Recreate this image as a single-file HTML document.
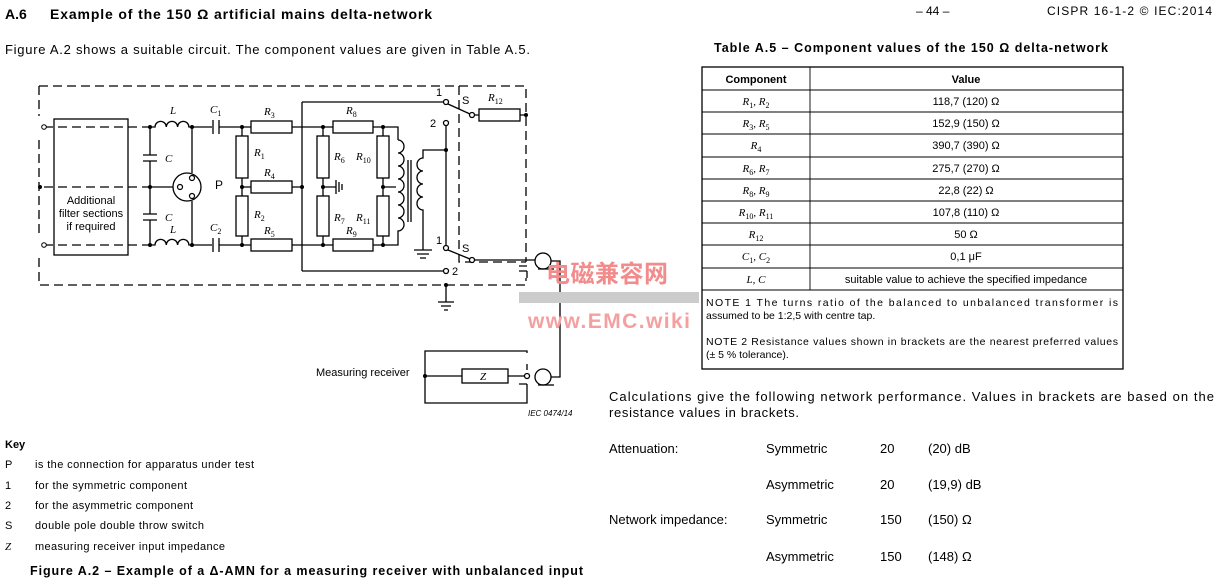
<!DOCTYPE html>
<html><head><meta charset="utf-8"><style>
html,body{margin:0;padding:0;background:#fff;}
svg{display:block;font-family:"Liberation Sans",Arial,sans-serif;}
.i{font-family:"Liberation Serif",serif;font-style:italic;}
</style></head><body>
<svg width="1218" height="582" viewBox="0 0 1218 582" xmlns="http://www.w3.org/2000/svg">
<!-- header -->
<text x="5" y="19" font-size="14" font-weight="bold">A.6</text>
<text x="50" y="19" font-size="14" font-weight="bold" textLength="382" lengthAdjust="spacing">Example of the 150 Ω artificial mains delta-network</text>
<text x="916" y="15" font-size="12">– 44 –</text>
<text x="1047" y="15" font-size="12" textLength="165" lengthAdjust="spacing">CISPR 16-1-2 © IEC:2014</text>
<text x="5" y="54" font-size="13" textLength="525" lengthAdjust="spacing">Figure A.2 shows a suitable circuit. The component values are given in Table A.5.</text>
<text x="714" y="52" font-size="12.5" font-weight="bold" textLength="394" lengthAdjust="spacing">Table A.5 – Component values of the 150 Ω delta-network</text>

<!-- circuit -->
<g stroke="#000" stroke-width="1.3" fill="none">
 <path d="M39 86 H526 V262 M39 86 V116 M39 140 V234 M39 258 V285 H526 V278 M459 86 V262 H526" stroke-dasharray="9,5"/>
 <path d="M44 127 H150 M44 187 H150 M44 245 H150" stroke-dasharray="9,5"/>
 <rect x="54" y="119" width="74" height="136"/>
 <path d="M150 127 V155 M143 155 H157 M143 161 H157 M150 161 V214 M143 214 H157 M143 220 H157 M150 220 V245"/>
 <path d="M150 187 H173"/>
 <path d="M150 127 H155 a5.6 5.6 0 0 1 11.3 0 a5.6 5.6 0 0 1 11.3 0 a5.6 5.6 0 0 1 11.3 0 H212"/>
 <path d="M150 245 H155 a5.6 5.6 0 0 1 11.3 0 a5.6 5.6 0 0 1 11.3 0 a5.6 5.6 0 0 1 11.3 0 H212"/>
 <path d="M192 127 V173 M192 201 V245"/>
 <circle cx="187" cy="187" r="14"/>
 <path d="M213 120 V134 M219 120 V134 M213 238 V252 M219 238 V252"/>
 <path d="M219 127 H251 M292 127 H333 M373 127 H398 V140"/>
 <path d="M219 245 H251 M292 245 H333 M373 245 H398 V232"/>
 <rect x="251" y="121" width="41" height="12"/>
 <rect x="251" y="239" width="41" height="12"/>
 <rect x="333" y="121" width="40" height="12"/>
 <rect x="333" y="239" width="40" height="12"/>
 <path d="M242 127 V136 M242 178 V196 M242 236 V245"/>
 <rect x="236" y="136" width="12" height="42"/>
 <rect x="236" y="196" width="12" height="40"/>
 <rect x="251" y="181" width="41" height="12"/>
 <path d="M242 187 H251 M292 187 H302"/>
 <path d="M323 127 V136 M323 178 V196 M323 236 V245 M323 187 H336 M336 180 V194 M339 182 V192 M342 184 V190"/>
 <rect x="317" y="136" width="12" height="42"/>
 <rect x="317" y="196" width="12" height="40"/>
 <path d="M383 127 V136 M383 178 V196 M383 236 V245 M383 187 H396"/>
 <rect x="377" y="136" width="12" height="42"/>
 <rect x="377" y="196" width="12" height="40"/>
 <path d="M398 140 a6 6.5 0 0 1 0 13 a6 6.5 0 0 1 0 13 a6 6.5 0 0 1 0 13 a6 6.5 0 0 1 0 13 a6 6.5 0 0 1 0 13 a6 6.5 0 0 1 0 13 a6 6.5 0 0 1 0 13 V232"/>
 <path d="M408 160 V222 M411 160 V222"/>
 <path d="M446 150 H423 V158 a6 6.5 0 0 0 0 13 a6 6.5 0 0 0 0 13 a6 6.5 0 0 0 0 13 a6 6.5 0 0 0 0 13 V250 M414 250 H432 M417 254 H429 M420 258 H426"/>
 <path d="M302 102 V271 M302 102 H443 M302 271 H443 M446 126 V245"/>
 <circle cx="446" cy="102" r="2.5" fill="#fff"/>
 <circle cx="446" cy="123" r="2.5" fill="#fff"/>
 <circle cx="446" cy="248" r="2.5" fill="#fff"/>
 <circle cx="446" cy="271" r="2.5" fill="#fff"/>
 <circle cx="472" cy="115" r="2.5" fill="#fff"/>
 <circle cx="472" cy="260" r="2.5" fill="#fff"/>
 <path d="M448 104 L470 114 M448 250 L470 259"/>
 <path d="M474 115 H479 M520 115 H526"/>
 <rect x="479" y="109" width="41" height="12"/>
 <path d="M474 260 H535 M551 261 H560 V377 H551"/>
 <circle cx="543" cy="261" r="8"/>
 <path d="M519 266 H527 M519 271 H527 M527 271 V278 M538 269 H554"/>
 <path d="M446 285 V302 M438 302 H454 M441 306 H451 M444 310 H448"/>
 <path d="M527 353 V351 H425 V403 H527 V384 M425 376 H462 M508 376 H524 M527 364 V370 M519 384 H527"/>
 <rect x="462" y="369" width="46" height="14"/>
 <circle cx="527" cy="376" r="2.5" fill="#fff"/>
 <circle cx="543" cy="377" r="8"/>
 <path d="M538 385 H554"/>
</g>
<g fill="#000">
 <circle cx="44" cy="127" r="2.3" fill="#fff" stroke="#000"/><circle cx="40" cy="187" r="2"/><circle cx="44" cy="245" r="2.3" fill="#fff" stroke="#000"/>
 <circle cx="150" cy="127" r="2"/><circle cx="150" cy="187" r="2"/><circle cx="150" cy="245" r="2"/>
 <circle cx="192" cy="127" r="2"/><circle cx="192" cy="245" r="2"/>
 <circle cx="242" cy="127" r="2"/><circle cx="242" cy="187" r="2"/><circle cx="242" cy="245" r="2"/>
 <circle cx="302" cy="187" r="2"/><circle cx="323" cy="127" r="2"/><circle cx="323" cy="187" r="2"/><circle cx="323" cy="245" r="2"/>
 <circle cx="383" cy="127" r="2"/><circle cx="383" cy="187" r="2"/><circle cx="383" cy="245" r="2"/>
 <circle cx="446" cy="150" r="2"/><circle cx="446" cy="285" r="2"/><circle cx="526" cy="115" r="2"/><circle cx="425" cy="376" r="2"/>
</g>
<g fill="#fff" stroke="#000" stroke-width="1.2"><circle cx="192" cy="178" r="2.5"/><circle cx="192" cy="196" r="2.5"/><circle cx="180" cy="187" r="2.5"/></g>
<g font-size="11">
 <text x="91" y="204" text-anchor="middle">Additional</text>
 <text x="91" y="217" text-anchor="middle">filter sections</text>
 <text x="91" y="230" text-anchor="middle">if required</text>
 <text x="215" y="189" font-size="12">P</text>
 <text x="436" y="96">1</text><text x="430" y="127">2</text>
 <text x="462" y="104">S</text>
 <text x="436" y="244">1</text><text x="462" y="252">S</text><text x="452" y="275">2</text>
 <text x="316" y="376">Measuring receiver</text>
 <text x="528" y="416" font-size="8" font-style="italic">IEC  0474/14</text>
</g>
<g class="i" font-size="11">
 <text x="170" y="114">L</text><text x="170" y="233">L</text>
 <text x="165" y="162">C</text><text x="165" y="221">C</text>
 <text x="210" y="113">C<tspan font-size="8" dy="3" font-style="normal">1</tspan></text>
 <text x="210" y="231">C<tspan font-size="8" dy="3" font-style="normal">2</tspan></text>
 <text x="264" y="115">R<tspan font-size="8" dy="3" font-style="normal">3</tspan></text>
 <text x="254" y="156">R<tspan font-size="8" dy="3" font-style="normal">1</tspan></text>
 <text x="264" y="176">R<tspan font-size="8" dy="3" font-style="normal">4</tspan></text>
 <text x="254" y="218">R<tspan font-size="8" dy="3" font-style="normal">2</tspan></text>
 <text x="264" y="234">R<tspan font-size="8" dy="3" font-style="normal">5</tspan></text>
 <text x="346" y="114">R<tspan font-size="8" dy="3" font-style="normal">8</tspan></text>
 <text x="334" y="160">R<tspan font-size="8" dy="3" font-style="normal">6</tspan></text>
 <text x="356" y="160">R<tspan font-size="8" dy="3" font-style="normal">10</tspan></text>
 <text x="334" y="221">R<tspan font-size="8" dy="3" font-style="normal">7</tspan></text>
 <text x="356" y="221">R<tspan font-size="8" dy="3" font-style="normal">11</tspan></text>
 <text x="346" y="234">R<tspan font-size="8" dy="3" font-style="normal">9</tspan></text>
 <text x="488" y="101">R<tspan font-size="8" dy="3" font-style="normal">12</tspan></text>
 <text x="480" y="380">Z</text>
</g>
<!-- watermark -->
<rect x="519" y="292" width="180" height="11" fill="#ccc"/>
<text x="546" y="282" font-size="24" font-weight="bold" fill="#f28b8b" font-family="'Liberation Sans','Noto Sans CJK SC',sans-serif" textLength="122">电磁兼容网</text>
<text x="528" y="328" font-size="21" font-weight="bold" fill="#f5a0a0" textLength="162" lengthAdjust="spacing">www.EMC.wiki</text>

<!-- key -->
<g font-size="11">
 <text x="5" y="448" font-weight="bold">Key</text>
 <text x="5" y="468">P</text><text x="35" y="468" textLength="219" lengthAdjust="spacing">is the connection for apparatus under test</text>
 <text x="5" y="489">1</text><text x="35" y="489" textLength="152" lengthAdjust="spacing">for the symmetric component</text>
 <text x="5" y="509">2</text><text x="35" y="509" textLength="158" lengthAdjust="spacing">for the asymmetric component</text>
 <text x="5" y="529">S</text><text x="35" y="529" textLength="169" lengthAdjust="spacing">double pole double throw switch</text>
 <text x="5" y="550" class="i">Z</text><text x="35" y="550" textLength="190" lengthAdjust="spacing">measuring receiver input impedance</text>
</g>
<text x="30" y="575" font-size="12.5" font-weight="bold" textLength="553" lengthAdjust="spacing">Figure A.2 – Example of a Δ-AMN for a measuring receiver with unbalanced input</text>

<!-- table -->
<g stroke="#000" fill="none">
 <rect x="702" y="67" width="421" height="302" stroke-width="1.3"/>
 <path d="M702 90 H1123 M702 112 H1123 M702 134 H1123 M702 157 H1123 M702 179 H1123 M702 201 H1123 M702 223 H1123 M702 245 H1123 M702 268 H1123 M702 290 H1123 M810 67 V290" stroke-width="0.9"/>
</g>
<g font-size="11" text-anchor="middle">
 <text x="756" y="83" font-weight="bold">Component</text><text x="966" y="83" font-weight="bold">Value</text>
 <text x="966" y="105">118,7 (120) Ω</text>
 <text x="966" y="127">152,9 (150) Ω</text>
 <text x="966" y="149">390,7 (390) Ω</text>
 <text x="966" y="172">275,7 (270) Ω</text>
 <text x="966" y="194">22,8 (22) Ω</text>
 <text x="966" y="216">107,8 (110) Ω</text>
 <text x="966" y="238">50 Ω</text>
 <text x="966" y="260">0,1 μF</text>
 <text x="966" y="283">suitable value to achieve the specified impedance</text>
</g>
<g class="i" font-size="11" text-anchor="middle">
 <text x="756" y="105">R<tspan font-size="8" dy="3" font-style="normal">1</tspan><tspan dy="-3">, R</tspan><tspan font-size="8" dy="3" font-style="normal">2</tspan></text>
 <text x="756" y="127">R<tspan font-size="8" dy="3" font-style="normal">3</tspan><tspan dy="-3">, R</tspan><tspan font-size="8" dy="3" font-style="normal">5</tspan></text>
 <text x="756" y="149">R<tspan font-size="8" dy="3" font-style="normal">4</tspan></text>
 <text x="756" y="172">R<tspan font-size="8" dy="3" font-style="normal">6</tspan><tspan dy="-3">, R</tspan><tspan font-size="8" dy="3" font-style="normal">7</tspan></text>
 <text x="756" y="194">R<tspan font-size="8" dy="3" font-style="normal">8</tspan><tspan dy="-3">, R</tspan><tspan font-size="8" dy="3" font-style="normal">9</tspan></text>
 <text x="756" y="216">R<tspan font-size="8" dy="3" font-style="normal">10</tspan><tspan dy="-3">, R</tspan><tspan font-size="8" dy="3" font-style="normal">11</tspan></text>
 <text x="756" y="238">R<tspan font-size="8" dy="3" font-style="normal">12</tspan></text>
 <text x="756" y="260">C<tspan font-size="8" dy="3" font-style="normal">1</tspan><tspan dy="-3">, C</tspan><tspan font-size="8" dy="3" font-style="normal">2</tspan></text>
 <text x="756" y="283">L, C</text>
</g>
<g font-size="10.5">
 <text x="706" y="306" textLength="412" lengthAdjust="spacing">NOTE 1  The turns ratio of the balanced to unbalanced transformer is</text>
 <text x="706" y="319">assumed to be 1:2,5 with centre tap.</text>
 <text x="706" y="345" textLength="412" lengthAdjust="spacing">NOTE 2  Resistance values shown in brackets are the nearest preferred values</text>
 <text x="706" y="358">(± 5 % tolerance).</text>
</g>
<g font-size="13">
 <text x="609" y="401" textLength="605" lengthAdjust="spacing">Calculations give the following network performance. Values in brackets are based on the</text>
 <text x="609" y="417" textLength="190" lengthAdjust="spacing">resistance values in brackets.</text>
 <text x="609" y="453">Attenuation:</text><text x="766" y="453">Symmetric</text><text x="880" y="453">20</text><text x="928" y="453">(20) dB</text>
 <text x="766" y="489">Asymmetric</text><text x="880" y="489">20</text><text x="928" y="489">(19,9) dB</text>
 <text x="609" y="524">Network impedance:</text><text x="766" y="524">Symmetric</text><text x="880" y="524">150</text><text x="928" y="524">(150) Ω</text>
 <text x="766" y="561">Asymmetric</text><text x="880" y="561">150</text><text x="928" y="561">(148) Ω</text>
</g>
</svg>
</body></html>
